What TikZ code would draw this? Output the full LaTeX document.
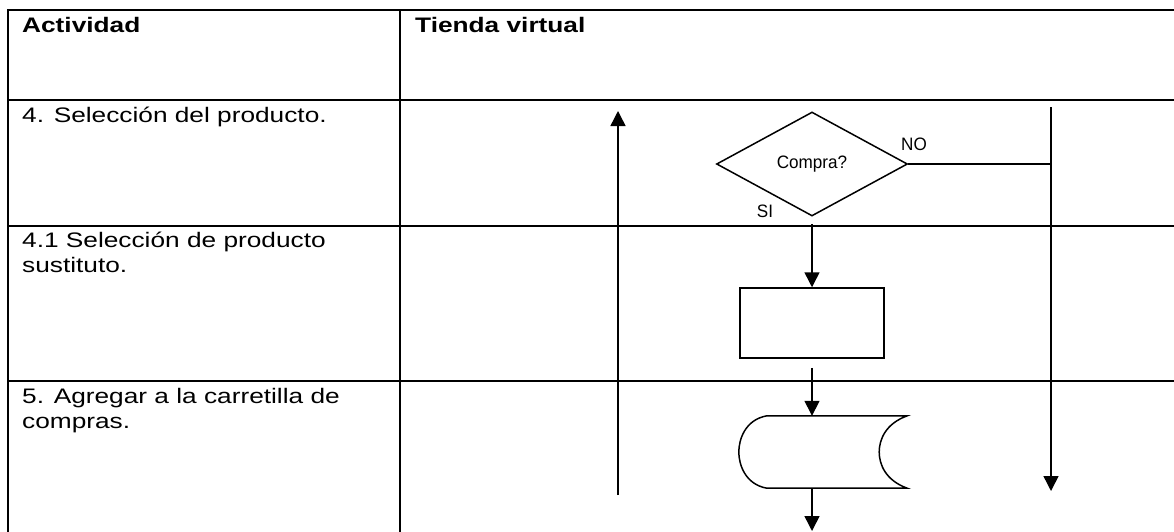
\documentclass[tikz,border=0pt]{standalone}
\usepackage{fontspec}
\setmainfont{Liberation Sans}
\newfontfamily\widefont[FakeStretch=1.25]{Liberation Sans}
\newfontfamily\narrowfont[FakeStretch=0.95]{Liberation Sans}
\usetikzlibrary{shapes.geometric,arrows.meta}

\tikzset{
  grid/.style={line width=2pt, line cap=rect},
  flow/.style={line width=1.5pt},
  arr/.style={-{Triangle[width=15pt,length=15pt]}},
  cell/.style={anchor=north west, inner sep=0pt, align=left,
    font=\widefont\fontsize{21}{25}\selectfont},
  head/.style={cell, font=\widefont\bfseries\fontsize{21}{25}\selectfont},
  small/.style={inner sep=0pt, font=\narrowfont\fontsize{18}{20}\selectfont},
}

\begin{document}
\begin{tikzpicture}[x=1pt, y=-1pt]
\useasboundingbox (0,0) rectangle (1174,531);
\fill[white] (0,0) rectangle (1174,531);
\clip (0,0) rectangle (1174,531);

% table rules
\draw[grid] (8,10) -- (1190,10);
\draw[grid] (8,100) -- (1190,100);
\draw[grid] (8,226) -- (1190,226);
\draw[grid] (8,381) -- (1190,381);
\draw[grid] (8,10) -- (8,545);
\draw[grid] (400,10) -- (400,545);

% table texts
\node[head] (hact) at (22,17) {Actividad};
\node[head] (htv) at (415,17) {Tienda virtual};
\node[cell] (r1) at (22,107) {4. Selección del producto.};
\node[cell] (r2) at (22,232) {4.1 Selección de producto\\sustituto.};
\node[cell] (r3) at (22,388) {5. Agregar a la carretilla de\\compras.};

% decision
\node[draw, flow, diamond, minimum width=191pt, minimum height=104pt,
      inner sep=0pt, font=\narrowfont\fontsize{18}{20}\selectfont]
      (dec) at (812,164) {Compra?};
\node[small] (no) at (914,144) {NO};
\node[small] (si) at (765,211) {SI};

% process and stored data
\node[draw, flow, minimum width=144pt, minimum height=70pt, inner sep=0pt]
      (proc) at (812,323) {};
\node[minimum width=168pt, minimum height=72pt, inner sep=0pt]
      (store) at (823,452) {};
\draw[flow] ([xshift=28pt]store.north west)
    .. controls +(-22,4) and +(0,-12) .. (store.west)
    .. controls +(0,12) and +(-22,-4) .. ([xshift=28pt]store.south west)
    -- (store.south east)
    .. controls +(-22,-8) and +(0,12) .. ([xshift=-28pt]store.east)
    .. controls +(0,-12) and +(-22,8) .. (store.north east)
    -- cycle;

% free ends of the long connectors
\coordinate (lb) at (618,495);
\coordinate (lt) at (618,111);
\coordinate (rt) at (1051,107);
\coordinate (rb) at (1051,491);
\coordinate (out) at (812,531);

% connectors
\draw[flow, arr] ([yshift=-7pt]dec.south) -- (proc.north);
\draw[flow, arr] ([yshift=-9pt]proc.south) -- (proc.south |- store.north);
\draw[flow, arr] (proc.south |- store.south) -- (out);
\draw[flow, arr] (lb) -- (lt);
\draw[flow, arr] (rt) -- (rb);
\draw[flow] (dec.east) -- (dec.east -| rt);
\end{tikzpicture}
\end{document}
